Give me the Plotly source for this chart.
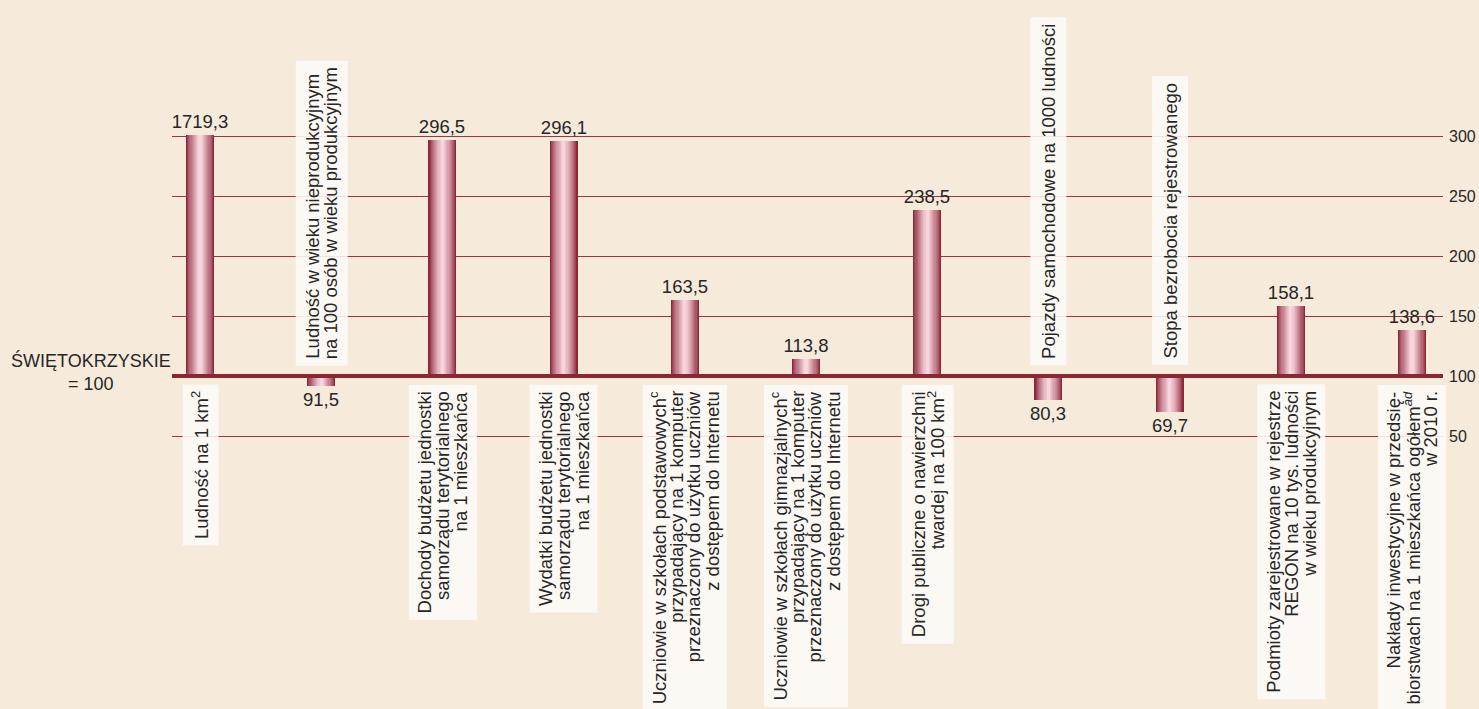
import plotly.graph_objects as go

# ---- data ----
categories = [
    "Ludność na 1 km<sup>2</sup>",
    "Ludność w wieku nieprodukcyjnym<br>na 100 osób w wieku produkcyjnym",
    "Dochody budżetu jednostki<br>samorządu terytorialnego<br>na 1 mieszkańca",
    "Wydatki budżetu jednostki<br>samorządu terytorialnego<br>na 1 mieszkańca",
    "Uczniowie w szkołach podstawowych<sup>c</sup><br>przypadający na 1 komputer<br>przeznaczony do użytku uczniów<br>z dostępem do Internetu",
    "Uczniowie w szkołach gimnazjalnych<sup>c</sup><br>przypadający na 1 komputer<br>przeznaczony do użytku uczniów<br>z dostępem do Internetu",
    "Drogi publiczne o nawierzchni<br>twardej na 100 km<sup>2</sup>",
    "Pojazdy samochodowe na 1000 ludności",
    "Stopa bezrobocia rejestrowanego",
    "Podmioty zarejestrowane w rejestrze<br>REGON na 10 tys. ludności<br>w wieku produkcyjnym",
    "Nakłady inwestycyjne w przedsię-<br>biorstwach na 1 mieszkańca ogółem<sup><i>ad</i></sup><br>w 2010 r.",
]
values = [1719.3, 91.5, 296.5, 296.1, 163.5, 113.8, 238.5, 80.3, 69.7, 158.1, 138.6]
value_labels = ["1719,3", "91,5", "296,5", "296,1", "163,5", "113,8",
                "238,5", "80,3", "69,7", "158,1", "138,6"]
tick_values = [50, 100, 150, 200, 250, 300]
reference_value = 100
axis_cap = 301  # bars above the scale are drawn up to the top gridline

# ---- styling ----
BG = "#f6eadb"
BOX = "rgba(253,251,248,0.88)"
FONT = "Liberation Sans, Arial, sans-serif"
TXT = "#262626"
GRID = "#a5323f"
BASE = "#8b2633"
BAR_W = 0.231
PX_PER_UNIT = 1.2      # vertical pixels per value unit
LINE_PITCH = 18        # px between label lines
LABEL_FONT = 18.5

# gradient layers (cylinder look): from dark edge to light centre
edge = (140, 40, 58)
centre = (248, 212, 219)
n_layers = 12
layers = []
for k in range(n_layers):
    t = k / (n_layers - 1)
    frac = 1.0 - 0.88 * t
    tt = t ** 0.8
    col = tuple(round(edge[j] + (centre[j] - edge[j]) * tt) for j in range(3))
    layers.append((frac, "rgb(%d,%d,%d)" % col))

x = list(range(len(values)))
shown = [min(v, axis_cap) for v in values]
heights = [s - reference_value for s in shown]

fig = go.Figure()
for i, (frac, col) in enumerate(layers):
    kw = {}
    if i == 0:
        kw = dict(text=value_labels, textposition="outside", constraintext="none",
                  textfont=dict(family=FONT, size=18.5, color=TXT))
    fig.add_trace(go.Bar(
        x=x, y=heights, base=reference_value,
        width=BAR_W * frac,
        marker=dict(color=col, line=dict(width=0)),
        cliponaxis=False,
        hoverinfo="skip",
        showlegend=False,
        **kw,
    ))

annotations = []
for i, (cat, v) in enumerate(zip(categories, values)):
    above = v < reference_value
    lines = cat.split("<br>")
    n = len(lines)
    box_w = (n - 1) * 16 + 35
    pad = 6
    # background box (transparent text sets its length)
    annotations.append(dict(
        x=i, xref="x",
        y=reference_value + (10 / PX_PER_UNIT if above else -8 / PX_PER_UNIT), yref="y",
        yanchor="bottom" if above else "top", xanchor="center",
        text=cat, textangle=-90, showarrow=False,
        height=box_w - 2 * pad, borderpad=pad,
        bgcolor=BOX,
        font=dict(family=FONT, size=LABEL_FONT, color="rgba(0,0,0,0)"),
    ))
    for k, line in enumerate(lines):
        annotations.append(dict(
            x=i, xref="x",
            xshift=(k - (n - 1) / 2) * LINE_PITCH,
            y=reference_value + ((10 + pad) / PX_PER_UNIT if above else -(8 + pad) / PX_PER_UNIT),
            yref="y",
            yanchor="bottom" if above else "top", xanchor="center",
            text=line, textangle=-90, showarrow=False, borderpad=0,
            font=dict(family=FONT, size=LABEL_FONT, color=TXT),
        ))

annotations.append(dict(
    x=0, xref="paper", xanchor="right", xshift=1,
    y=reference_value + 3, yref="y", yanchor="middle",
    text="ŚWIĘTOKRZYSKIE<br>= 100", align="center",
    showarrow=False,
    font=dict(family=FONT, size=18, color=TXT),
))

fig.update_layout(
    width=1479, height=709,
    margin=dict(l=172, r=36, t=0, b=0),
    paper_bgcolor=BG, plot_bgcolor=BG,
    barmode="overlay",
    bargap=0,
    annotations=annotations,
    shapes=[dict(type="line", xref="paper", x0=0, x1=1,
                 yref="y", y0=reference_value, y1=reference_value,
                 line=dict(color=BASE, width=4), layer="above")],
    font=dict(family=FONT, color=TXT),
)
fig.update_xaxes(range=[-0.231, 10.256], visible=False, fixedrange=True)
fig.update_yaxes(
    range=[100 - 333 / PX_PER_UNIT, 100 + 376 / PX_PER_UNIT], side="right",
    tickvals=tick_values, ticktext=[str(t) for t in tick_values],
    showgrid=True, gridcolor=GRID, gridwidth=1,
    zeroline=False, showline=False, ticks="",
    ticklabelstandoff=5,
    tickfont=dict(family=FONT, size=16, color=TXT),
    automargin=False, fixedrange=True,
)

fig.write_html(
    "out.html",
    config={"displayModeBar": False},
    post_script="document.body.style.margin='0';document.body.style.overflow='hidden';",
)
